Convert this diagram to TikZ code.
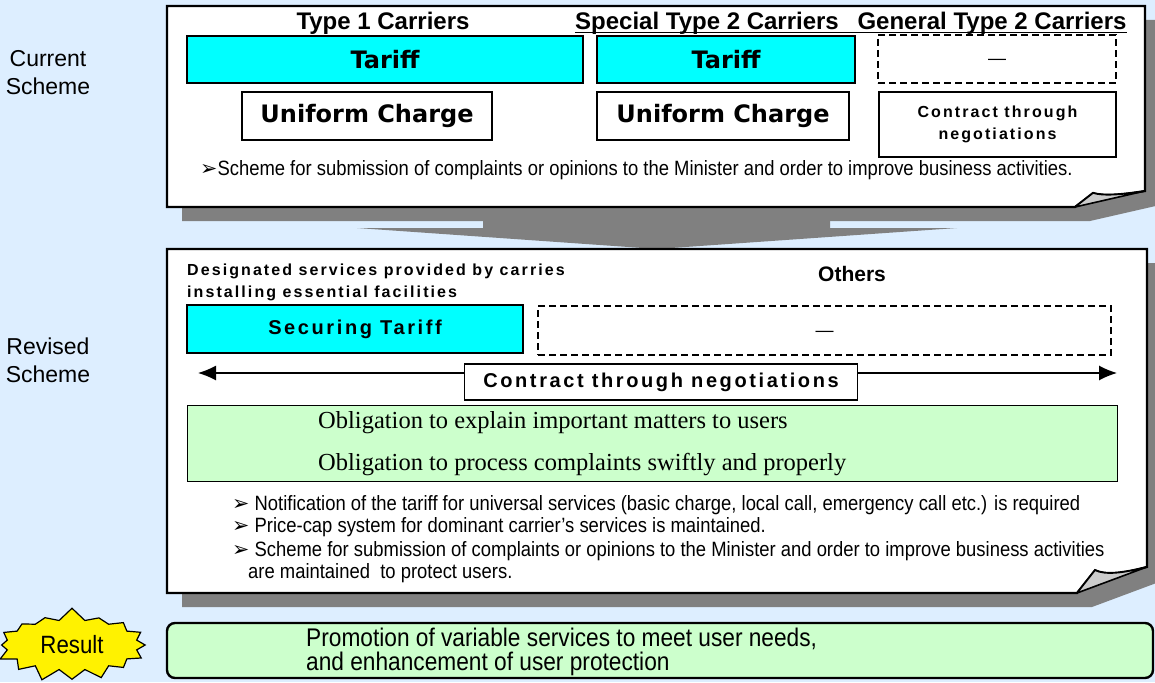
\documentclass[tikz,border=0pt]{standalone}
\usepackage{fontspec}
\setmainfont{Liberation Sans}
\newfontfamily\heavyfont{DejaVu Sans}
\newfontfamily\condfont[FakeStretch=0.89]{Liberation Sans}
\newfontfamily\romanfont{Liberation Serif}
\newfontfamily\arrowfont{DejaVu Sans}
\usetikzlibrary{shapes.symbols,arrows.meta}

\definecolor{skyback}{RGB}{221,238,255}
\definecolor{shadowgray}{RGB}{128,128,128}
\definecolor{foldgray}{RGB}{204,204,204}
\definecolor{tariffcyan}{RGB}{0,255,255}
\definecolor{mintgreen}{RGB}{204,255,204}

\newcommand{\px}[2]{\fontsize{#1}{#2}\selectfont}
\newcommand{\bulletmark}{{\arrowfont ➢}}

\begin{document}
\begin{tikzpicture}[x=1pt,y=-1pt,
  panel/.style={draw,line width=2.2pt,fill=white},
  flap/.style={draw,line width=1.6pt,fill=foldgray,line join=round},
  cyanbox/.style={draw,line width=1.3pt,fill=tariffcyan,inner sep=0pt},
  whitebox/.style={draw,line width=1.3pt,fill=white,inner sep=0pt},
  openbox/.style={draw,line width=1.3pt,dash pattern=on 7pt off 4pt,inner sep=0pt},
  greenbox/.style={draw,line width=1pt,fill=mintgreen,inner sep=0pt},
  resultbox/.style={draw,line width=2.4pt,fill=mintgreen,rounded corners=8pt,inner sep=0pt},
  burst/.style={starburst,starburst points=16,starburst point height=13pt,
    random starburst=7,draw,line width=1.2pt,fill=yellow,
    minimum width=158pt,minimum height=76pt,inner sep=0pt},
  heavy/.style={font=\heavyfont\bfseries\px{24}{28}},
  spaced/.style={font=\bfseries\px{#1}{22}\addfontfeature{LetterSpace=13}},
  head/.style={font=\bfseries\px{24}{26},inner sep=0pt},
  side/.style={font=\px{23}{28},align=center},
  note/.style={font=\condfont\px{20.7}{22},anchor=west,inner sep=0pt},
  obl/.style={font=\romanfont\px{24.5}{26},anchor=west,inner sep=0pt},
  blank/.style={font=\px{18}{20},text height=11pt,text depth=0pt}
]

\fill[skyback] (0,0) rectangle (1155,682);
\useasboundingbox (0,0) rectangle (1155,682);

% drop shadows of the two sheets (left/top/right/bottom/fold depth)
\foreach \l/\t/\r/\b/\f in {167/6/1145/207/1, 167/249/1147/593/1.63}
{
  \fill[shadowgray, shift={(15,14)}] (\l,\t) -- (\r,\t) -- (\r,\b-16*\f)
    -- (\r-70,\b) -- (\l,\b) -- cycle;
}

% broad arrow from the current to the revised scheme
\fill[shadowgray] (483,200) -- (830,200) -- (830,228) -- (957,228)
  -- (657,249) -- (357,228) -- (483,228) -- cycle;

% sheets with a turned-up corner
\foreach \l/\t/\r/\b/\f in {167/6/1145/207/1, 167/249/1147/593/1.63}
{
  \draw[panel] (\l,\t) -- (\r,\t) -- (\r,\b-16*\f)
    .. controls (\r-25,\b-12*\f) and (\r-42,\b-11*\f) .. (\r-52,\b-14*\f)
    -- (\r-70,\b) -- (\l,\b) -- cycle;
  \draw[flap] (\r-70,\b) -- (\r-52,\b-14*\f)
    .. controls (\r-42,\b-11*\f) and (\r-25,\b-12*\f) .. (\r,\b-16*\f) -- cycle;
}

\node[side] (cur) at (48,73) {Current\\Scheme};
\node[side] (rev) at (48,360) {Revised\\Scheme};

% current scheme
\node[head] (ty1) at (383,23) {Type 1 Carriers};
\node[head] (spc) at (707,23) {Special Type 2 Carriers};
\node[head] (gen) at (992,23) {General Type 2 Carriers};
\draw[line width=1pt] ([yshift=-3pt]spc.base west) -- ([yshift=-3pt]gen.base east);

\node[cyanbox, minimum width=396pt, minimum height=47pt, heavy] (tarA) at (385,59.5) {Tariff};
\node[cyanbox, minimum width=258pt, minimum height=47pt, heavy] (tarB) at (726,59.5) {Tariff};
\node[openbox, minimum width=238pt, minimum height=48pt, blank] (nilA) at (997,59) {—};
\node[whitebox, minimum width=250pt, minimum height=48pt, heavy] (uniA) at (367,116) {Uniform Charge};
\node[whitebox, minimum width=252pt, minimum height=48pt, heavy] (uniB) at (723,116) {Uniform Charge};
\node[whitebox, minimum width=237pt, minimum height=65pt, spaced=16, align=center] (negA)
  at (997.5,124.5) {Contract through\\negotiations};
\node[note] (cmpA) at (200,170) {\bulletmark Scheme for submission of complaints or opinions to the Minister and order to improve business activities.};

% revised scheme
\node[spaced=16, anchor=west, align=left, inner sep=0pt] (desig) at (187,282)
  {Designated services provided by carries\\installing essential facilities};
\node[head, font=\bfseries\px{21}{24}] (oth) at (852,274) {Others};
\node[cyanbox, minimum width=336pt, minimum height=48pt, spaced=20] (secT) at (355,329) {Securing Tariff};
\node[openbox, minimum width=573pt, minimum height=49pt, blank] (nilB) at (824.5,330.5) {—};

\coordinate (negL) at (198,373);
\coordinate (negR) at (1117,373);
\draw[{Latex[length=18pt,width=15pt]}-{Latex[length=18pt,width=15pt]}, line width=1.2pt] (negL) -- (negR);
\node[whitebox, minimum width=393pt, minimum height=36pt, spaced=20] (negB) at (661,382) {Contract through negotiations};

\node[greenbox, minimum width=930pt, minimum height=76pt] (obl) at (652,443) {};
\node[obl] (expl) at (318,423) {Obligation to explain important matters to users};
\node[obl] (proc) at (318,465) {Obligation to process complaints swiftly and properly};

\foreach \y/\txt [count=\i] in {
  505/{\bulletmark\ Notification of the tariff for universal services (basic charge, local call, emergency call etc.) is required},
  527/{\bulletmark\ Price-cap system for dominant carrier’s services is maintained.},
  551/{\bulletmark\ Scheme for submission of complaints or opinions to the Minister and order to improve business activities}}
{
  \node[note] (rule\i) at (232,\y) {\txt};
}
\node[note] (rule4) at (248,573) {are maintained\ \ to protect users.};

% outcome
\node[burst, font=\condfont\px{25}{28}] (res) at (72,645) {Result};
\node[resultbox, minimum width=986pt, minimum height=55pt] (outc) at (660,650.5) {};
\node[font=\condfont\px{25.5}{24}, anchor=west, align=left, inner sep=0pt] (outt) at (306,652)
  {Promotion of variable services to meet user needs,\\and enhancement of user protection};

\end{tikzpicture}
\end{document}
